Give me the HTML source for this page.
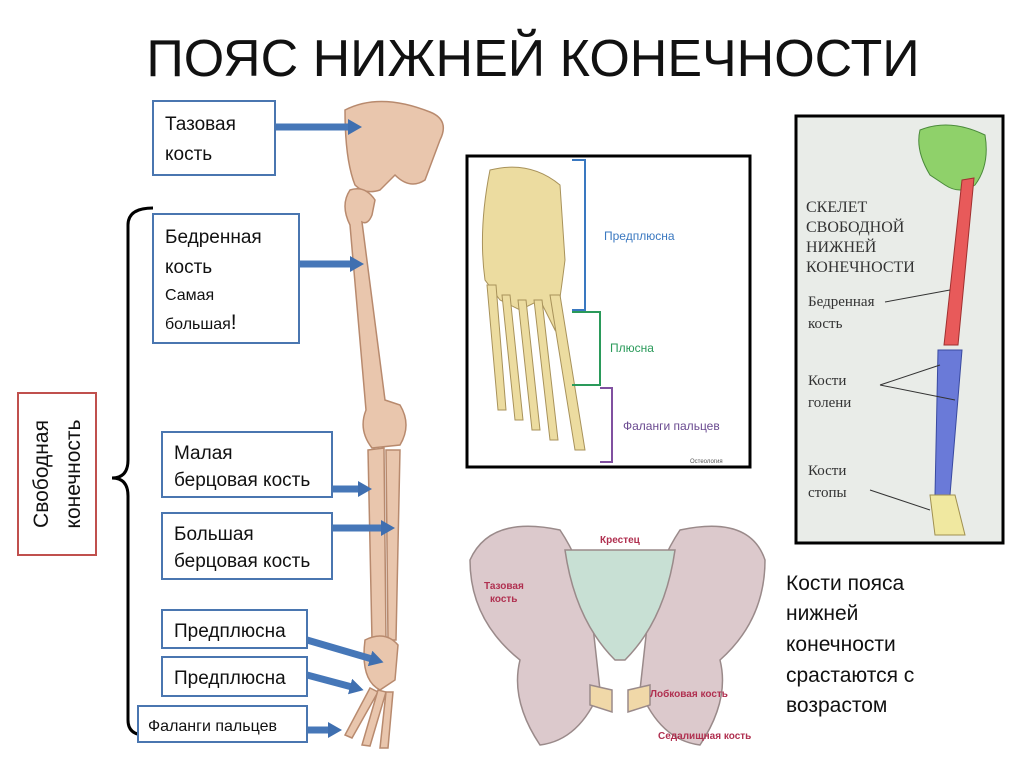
<!DOCTYPE html>
<html><head><meta charset="utf-8"><style>
html,body{margin:0;padding:0;background:#fff;}
body{width:1015px;height:767px;overflow:hidden;position:relative;font-family:"Liberation Sans","DejaVu Sans",sans-serif;}
</style></head><body>
<svg width="1015" height="767" viewBox="0 0 1015 767" xmlns="http://www.w3.org/2000/svg" style="position:absolute;left:0;top:0">
<defs>
<marker id="ah" markerUnits="userSpaceOnUse" markerWidth="14" markerHeight="16" refX="2" refY="8" orient="auto"><path d="M0,0 L14,8 L0,16z" fill="#3f6fb0"/></marker>
</defs>
<text x="533" y="76" text-anchor="middle" font-size="52" font-family="Liberation Sans, sans-serif" fill="#111">ПОЯС НИЖНЕЙ КОНЕЧНОСТИ</text>

<!-- leg skeleton -->
<g fill="#e9c6ad" stroke="#b88a6e" stroke-width="1.5">
<path d="M345,110 Q380,92 430,112 Q450,120 440,140 L425,180 Q410,190 395,175 L380,190 Q365,195 355,185 Q345,160 345,110z"/>
<path d="M350,190 Q365,185 375,200 L372,215 Q368,225 362,222 L385,400 L400,405 Q412,425 400,445 L372,448 Q358,430 366,410 L350,225 Q340,205 350,190z"/>
<path d="M368,450 L384,448 L386,640 L372,640z"/>
<path d="M386,450 L400,450 L396,640 L388,640z"/>
<path d="M365,640 Q385,630 398,645 L395,680 L380,690 Q360,680 365,640z"/>
<path d="M370,688 L345,735 L352,738 L378,692z"/>
<path d="M378,690 L362,745 L370,746 L386,692z"/>
<path d="M386,692 L380,748 L388,748 L393,692z"/>
</g>

<!-- bracket -->
<path d="M153,208 Q128,208 128,225 L128,460 Q128,478 112,478 Q128,478 128,496 L128,720 Q128,735 145,735" fill="none" stroke="#000" stroke-width="3"/>

<rect x="18" y="393" width="78" height="162" fill="#fff" stroke="#c0504d" stroke-width="2"/>
<text transform="translate(48,474) rotate(-90)" text-anchor="middle" font-size="21" fill="#111">Свободная</text>
<text transform="translate(80,474) rotate(-90)" text-anchor="middle" font-size="21" fill="#111">конечность</text>

<!-- arrows -->
<g stroke="#4677b8" stroke-width="7" marker-end="url(#ah)" fill="none">
<line x1="276" y1="127" x2="350" y2="127"/>
<line x1="300" y1="264" x2="352" y2="264"/>
<line x1="332" y1="489" x2="360" y2="489"/>
<line x1="332" y1="528" x2="383" y2="528"/>
<line x1="307" y1="640" x2="372" y2="659"/>
<line x1="307" y1="675" x2="352" y2="687"/>
<line x1="307" y1="730" x2="330" y2="730"/>
</g>

<g fill="#fff" stroke="#4a76b0" stroke-width="2">
<rect x="153" y="101" width="122" height="74"/>
<rect x="153" y="214" width="146" height="129"/>
<rect x="162" y="432" width="170" height="65"/>
<rect x="162" y="513" width="170" height="66"/>
<rect x="162" y="610" width="145" height="38"/>
<rect x="162" y="657" width="145" height="39"/>
<rect x="138" y="706" width="169" height="36"/>
</g>
<g font-size="19" fill="#111">
<text x="165" y="130">Тазовая</text><text x="165" y="160">кость</text>
<text x="165" y="243">Бедренная</text><text x="165" y="273">кость</text>
<text x="165" y="300" font-size="16">Самая</text><text x="165" y="329" font-size="16">большая<tspan font-size="21">!</tspan></text>
<text x="174" y="459">Малая</text><text x="174" y="486">берцовая кость</text>
<text x="174" y="540">Большая</text><text x="174" y="567">берцовая кость</text>
<text x="174" y="637">Предплюсна</text>
<text x="174" y="684">Предплюсна</text>
<text x="148" y="731" font-size="16">Фаланги пальцев</text>
</g>

<!-- foot image -->
<rect x="467" y="156" width="283" height="311" fill="#fff" stroke="#000" stroke-width="3"/>
<g fill="#ecdca0" stroke="#a8925a" stroke-width="1">
<path d="M490,170 Q530,160 560,185 L565,260 Q560,300 555,330 L540,300 L520,310 L500,300 L485,280 Q478,230 490,170z"/>
<path d="M487,285 L498,410 L506,410 L496,285z"/>
<path d="M502,295 L515,420 L523,420 L510,295z"/>
<path d="M518,300 L532,430 L540,430 L526,300z"/>
<path d="M534,300 L550,440 L558,440 L542,300z"/>
<path d="M550,295 L575,450 L585,450 L560,295z"/>
</g>
<g fill="none" stroke-width="2">
<path d="M572,160 L585,160 L585,310 L572,310" stroke="#3a78c0"/>
<path d="M572,312 L600,312 L600,385 L572,385" stroke="#2a9a5a"/>
<path d="M600,388 L612,388 L612,462 L600,462" stroke="#8050a0"/>
</g>
<text x="604" y="240" font-size="12" fill="#3a78c0">Предплюсна</text>
<text x="610" y="352" font-size="12" fill="#2a9a5a">Плюсна</text>
<text x="623" y="430" font-size="12" fill="#6a4a90">Фаланги пальцев</text>
<text x="690" y="463" font-size="6" fill="#555">Остеология</text>

<!-- right image -->
<rect x="796" y="116" width="207" height="427" fill="#e9ece8" stroke="#000" stroke-width="3"/>
<path d="M920,130 Q950,118 985,135 Q990,165 975,185 Q960,195 945,185 L930,175 Q915,150 920,130z" fill="#8fd16a" stroke="#4a8a3a"/>
<path d="M962,180 L974,178 L958,345 L944,345z" fill="#e85a5a" stroke="#a03030"/>
<path d="M938,350 L962,350 L950,495 L935,495z" fill="#6a7ad8" stroke="#3a4aa0"/>
<path d="M930,495 L955,495 L965,535 L935,535z" fill="#f0e8a0" stroke="#a09050"/>
<g font-family="Liberation Serif, serif" fill="#333">
<text x="806" y="212" font-size="16">СКЕЛЕТ</text><text x="806" y="232" font-size="16">СВОБОДНОЙ</text>
<text x="806" y="252" font-size="16">НИЖНЕЙ</text><text x="806" y="272" font-size="16">КОНЕЧНОСТИ</text>
<text x="808" y="306" font-size="15">Бедренная</text><text x="808" y="328" font-size="15">кость</text>
<text x="808" y="385" font-size="15">Кости</text><text x="808" y="407" font-size="15">голени</text>
<text x="808" y="475" font-size="15">Кости</text><text x="808" y="497" font-size="15">стопы</text>
</g>
<g stroke="#333" stroke-width="1"><line x1="885" y1="302" x2="950" y2="290"/><line x1="880" y1="385" x2="940" y2="365"/><line x1="880" y1="385" x2="955" y2="400"/><line x1="870" y1="490" x2="930" y2="510"/></g>

<!-- pelvis -->
<g stroke="#9a8a8a" stroke-width="1.5">
<path d="M470,560 Q490,515 560,530 Q580,560 590,600 L600,690 Q580,740 540,745 Q510,700 520,660 Q470,620 470,560z" fill="#dcc9cc"/>
<path d="M765,560 Q750,515 680,530 Q660,560 650,600 L640,690 Q660,740 700,745 Q730,700 720,660 Q765,620 765,560z" fill="#dcc9cc"/>
<path d="M565,550 L675,550 Q665,620 625,660 L615,660 Q575,620 565,550z" fill="#c8e0d4"/>
<path d="M590,685 L612,690 L612,712 L590,705z M628,690 L650,685 L650,705 L628,712z" fill="#f0d8a8"/>
</g>
<text x="600" y="543" font-size="10" font-weight="bold" fill="#b03050">Крестец</text>
<text x="484" y="589" font-size="10" font-weight="bold" fill="#b03050">Тазовая</text>
<text x="490" y="602" font-size="10" font-weight="bold" fill="#b03050">кость</text>
<text x="650" y="697" font-size="10" font-weight="bold" fill="#b03050">Лобковая кость</text>
<text x="658" y="739" font-size="10" font-weight="bold" fill="#b03050">Седалищная кость</text>

<g font-size="21" fill="#111">
<text x="786" y="590">Кости пояса</text>
<text x="786" y="620">нижней</text>
<text x="786" y="651">конечности</text>
<text x="786" y="682">срастаются с</text>
<text x="786" y="712">возрастом</text>
</g>
</svg>
</body></html>
